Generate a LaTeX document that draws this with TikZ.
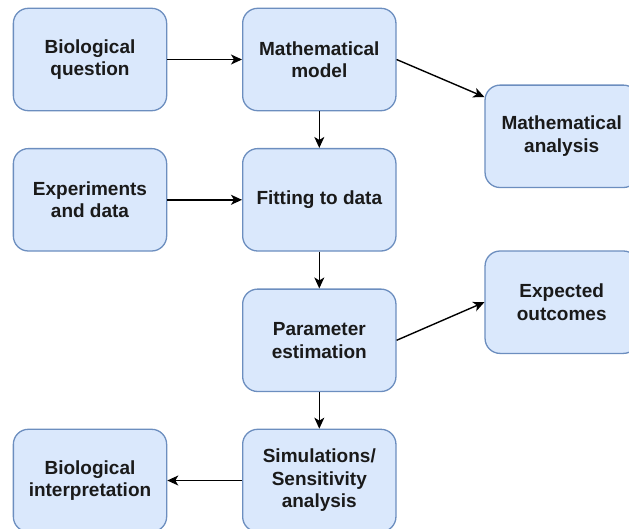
\documentclass[tikz,border=0pt]{standalone}
\usepackage{fontspec}
\setmainfont{Liberation Sans}
\usetikzlibrary{arrows.meta}
\definecolor{boxfill}{HTML}{DAE8FC}
\definecolor{boxline}{HTML}{6C8EBF}
\definecolor{txt}{HTML}{1A1A1A}
\begin{document}
\begin{tikzpicture}[x=1pt,y=-1pt,
  stepbox/.style={draw=boxline, fill=boxfill, line width=1.3pt,
    rounded corners=15pt, minimum width=153.3pt, minimum height=102.4pt,
    inner sep=0pt, align=center, text=txt,
    font=\bfseries\fontsize{19}{22.5}\selectfont},
  link/.style={line width=1.4pt, draw=black,
    -{Stealth[length=11pt, width=10pt, inset=3pt]}}]
\useasboundingbox (0,0) rectangle (629,528);

% first column
\node[stepbox] (bq) at (90,59.5) {Biological\\question};
\node[stepbox] (ed) at (90,199.8) {Experiments\\and data};
\node[stepbox] (bi) at (90,480.5) {Biological\\interpretation};

% main pipeline
\node[stepbox] (mm) at (319.3,59.5) {Mathematical\\model};
\node[stepbox] (fd) at (319.3,199.8) {Fitting to data};
\node[stepbox] (pe) at (319.3,340.3) {Parameter\\estimation};
\node[stepbox] (ss) at (319.3,480.5) {Simulations/\\Sensitivity\\analysis};

% side results
\node[stepbox] (ma) at (561.7,136.3) {Mathematical\\analysis};
\node[stepbox] (eo) at (561.7,302.2) {Expected\\outcomes};

% connectors
\draw[link] (bq) -- (mm);
\draw[link] (ed) -- (fd);
\draw[link] (mm) -- (fd);
\draw[link] (fd) -- (pe);
\draw[link] (pe) -- (ss);
\draw[link] (ss) -- (bi);
\draw[link] (mm.east) -- ([yshift=39.3pt]ma.west);
\draw[link] (pe.east) -- (eo.west);
\end{tikzpicture}
\end{document}
